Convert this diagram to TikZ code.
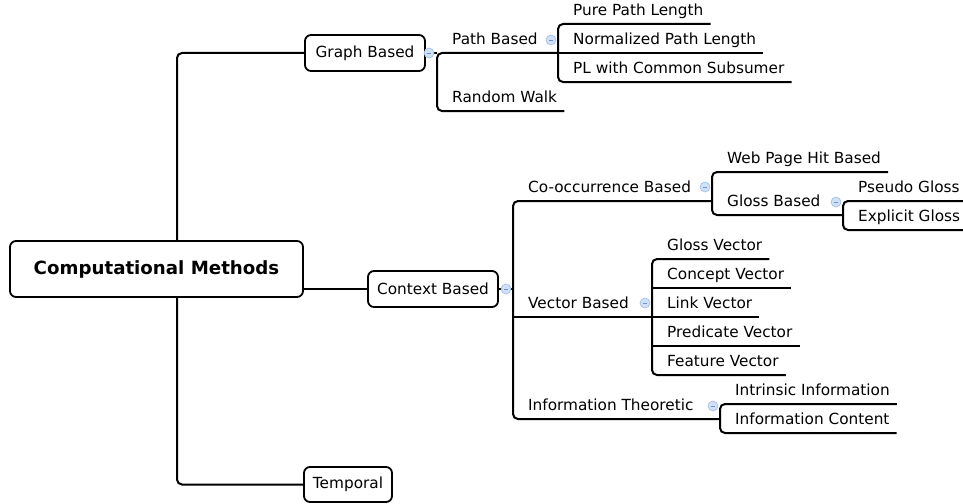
\documentclass[tikz,border=0pt]{standalone}
\usepackage{fontspec}
\setmainfont{DejaVu Sans}
\definecolor{foldfill}{HTML}{CFE0F7}
\definecolor{folddraw}{HTML}{9DBBE8}
\definecolor{foldbar}{HTML}{6F95D0}
\tikzset{
  topic/.style={draw, line width=1.8pt, rounded corners=6pt, minimum height=36pt, inner sep=0pt, font=\fontsize{15.3}{18}\selectfont},
  branch/.style={anchor=south west, inner xsep=7pt, inner ysep=0pt, text depth=8.5pt, font=\fontsize{15.3}{18}\selectfont},
  fold/.style={circle, draw=folddraw, fill=foldfill, line width=0.6pt, minimum size=10pt, inner sep=0pt,
    path picture={\draw[foldbar, line width=0.8pt] ([xshift=-2.4pt]path picture bounding box.center) -- ([xshift=2.4pt]path picture bounding box.center);}},
  conn/.style={line width=2pt, rounded corners=5pt}
}

\begin{document}
\begin{tikzpicture}[x=1pt, y=-1pt]
\useasboundingbox (0,0) rectangle (963,503);

\coordinate (rootfk) at (177,0);
\coordinate (gbfk) at (437,0);
\coordinate (pbfk) at (558,0);
\coordinate (cbfk) at (513,0);
\coordinate (cofk) at (712,0);
\coordinate (glfk) at (843,0);
\coordinate (vbfk) at (652,0);
\coordinate (itfk) at (720,0);

\node[topic, font=\bfseries\fontsize{18.2}{22}\selectfont, minimum width=293pt, minimum height=56pt] (root) at (156.5,269) {Computational Methods};
\node[topic, minimum width=120pt] (gb) at (365,53) {Graph Based};
\node[topic, minimum width=130pt] (cb) at (433,289) {Context Based};
\node[topic, minimum width=88pt, minimum height=35pt] (tp) at (348,484.5) {Temporal};

\node[branch] (pb) at (445,53) {Path Based};
\node[branch] (rw) at (445,111) {Random Walk};
\node[branch] (ppl) at (566,24) {Pure Path Length};
\node[branch] (npl) at (566,53) {Normalized Path Length};
\node[branch] (plcs) at (566,82) {PL with Common Subsumer};

\node[branch] (co) at (521,201) {Co-occurrence Based};
\node[branch] (vb) at (521,317) {Vector Based};
\node[branch] (it) at (521,419) {Information Theoretic};
\node[branch] (wph) at (720,172) {Web Page Hit Based};
\node[branch] (gl) at (720,215) {Gloss Based};
\node[branch] (psg) at (851,201) {Pseudo Gloss};
\node[branch] (exg) at (851,230) {Explicit Gloss};
\node[branch] (gv) at (660,259) {Gloss Vector};
\node[branch] (cv) at (660,288) {Concept Vector};
\node[branch] (lv) at (660,317) {Link Vector};
\node[branch] (pv) at (660,346) {Predicate Vector};
\node[branch] (fv) at (660,375) {Feature Vector};
\node[branch] (ii) at (728,404) {Intrinsic Information};
\node[branch] (ic) at (728,433) {Information Content};

% root
\draw[conn] (root.north -| rootfk) -- (gb.west -| rootfk) -- (gb.west);
\draw[conn] (root.south -| rootfk) -- (tp.west -| rootfk) -- (tp.west);
\draw[conn] (cb.west -| root.east) -- (cb.west);

% graph based
\draw[conn] (gb.east) -- (gb.east -| gbfk);
\draw[conn] (pb.south -| pbfk) -- (pb.south -| gbfk) -- (rw.south -| gbfk) -- (rw.south east);
\draw[conn] (ppl.south east) -- (ppl.south -| pbfk) -- (plcs.south -| pbfk) -- (plcs.south east);
\draw[conn] (npl.south -| pbfk) -- (npl.south east);

% context based
\draw[conn] (cb.east) -- (cb.east -| cbfk);
\draw[conn] (co.south -| cofk) -- (co.south -| cbfk) -- (it.south -| cbfk) -- (it.south -| itfk);
\draw[conn] (vb.south -| cbfk) -- (vb.south -| vbfk);
\draw[conn] (wph.south east) -- (wph.south -| cofk) -- (gl.south -| cofk) -- (gl.south -| glfk);
\draw[conn] (psg.south east) -- (psg.south -| glfk) -- (exg.south -| glfk) -- (exg.south east);
\draw[conn] (gv.south east) -- (gv.south -| vbfk) -- (fv.south -| vbfk) -- (fv.south east);
\draw[conn] (cv.south -| vbfk) -- (cv.south east);
\draw[conn] (lv.south -| vbfk) -- (lv.south east);
\draw[conn] (pv.south -| vbfk) -- (pv.south east);
\draw[conn] (ii.south east) -- (ii.south -| itfk) -- (ic.south -| itfk) -- (ic.south east);

\node[fold] (gbf) at (429,53) {};
\node[fold] (pbf) at (551,40) {};
\node[fold] (cbf) at (506,289) {};
\node[fold] (cof) at (705,187) {};
\node[fold] (glf) at (836,202) {};
\node[fold] (vbf) at (645,303) {};
\node[fold] (itf) at (713,406) {};
\end{tikzpicture}
\end{document}
